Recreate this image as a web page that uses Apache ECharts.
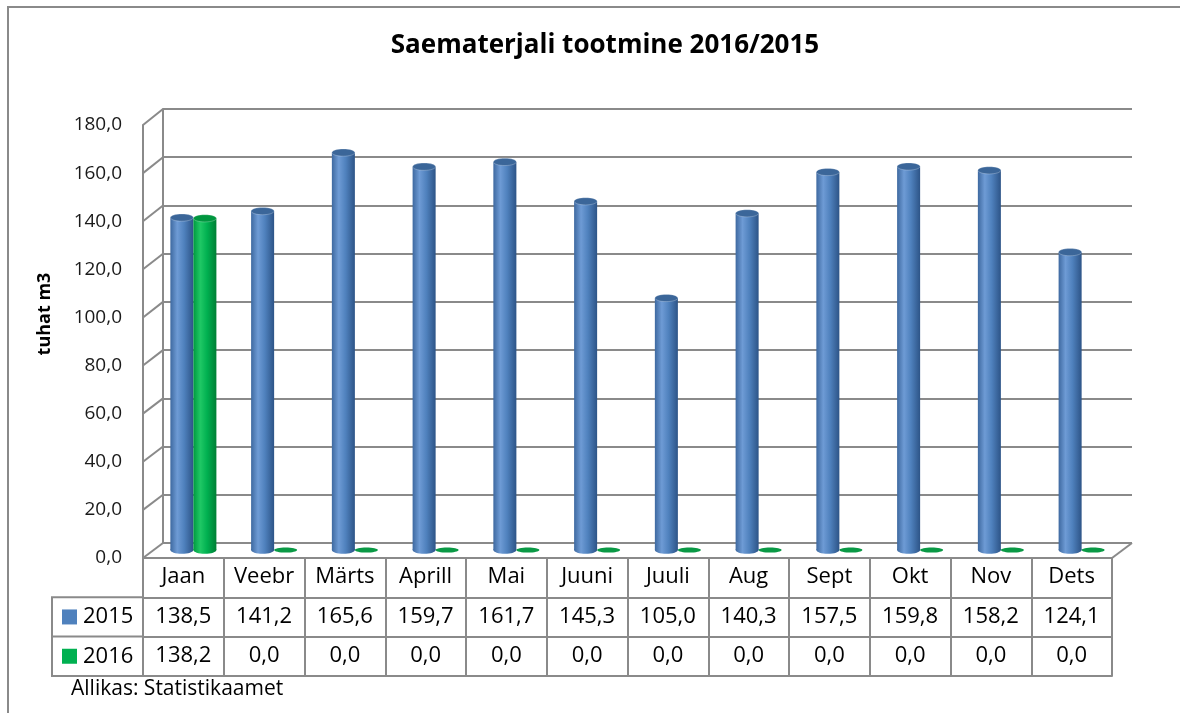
<!DOCTYPE html>
<html>
<head>
<meta charset="utf-8">
<title>Saematerjali tootmine 2016/2015</title>
<script src="https://cdn.jsdelivr.net/npm/echarts@6/dist/echarts.min.js"></script>
<style>
  html, body { margin: 0; padding: 0; background: #fff; }
  #chart { width: 1180px; height: 713px; }
</style>
</head>
<body>
<div id="chart"></div>
<script>
// andmed
var months = ['Jaan', 'Veebr', 'Märts', 'Aprill', 'Mai', 'Juuni', 'Juuli', 'Aug', 'Sept', 'Okt', 'Nov', 'Dets'];
var seriesNames = ['2015', '2016'];
var values2015 = [138.5, 141.2, 165.6, 159.7, 161.7, 145.3, 105.0, 140.3, 157.5, 159.8, 158.2, 124.1];
var values2016 = [138.2, 0, 0, 0, 0, 0, 0, 0, 0, 0, 0, 0];
var yTicks = [0, 20, 40, 60, 80, 100, 120, 140, 160, 180];

var W = 1180;
var FONT = '"Open Sans", "Noto Sans", sans-serif';
var LINE = '#8a8a8a';

// 3D "kasti" paigutus
var front = { left: 143, right: 1112, top: 125, bottom: 558 };
var back = { left: 163, right: 1132, top: 109, bottom: 543 };
var bars = { left: 153, right: 1122, top: 118, bottom: 550 };
var rowH = 39.3;

function fmt(v) { return v.toFixed(1).replace('.', ','); }

var blueBody = { type: 'linear', x: 0, y: 0, x2: 1, y2: 0, colorStops: [
  { offset: 0, color: '#3e69a0' }, { offset: 0.3, color: '#6e9bd5' },
  { offset: 0.6, color: '#4f81bd' }, { offset: 1, color: '#2d5487' }] };
var greenBody = { type: 'linear', x: 0, y: 0, x2: 1, y2: 0, colorStops: [
  { offset: 0, color: '#009a40' }, { offset: 0.3, color: '#1fc865' },
  { offset: 0.6, color: '#00b050' }, { offset: 1, color: '#007f35' }] };

// silinder, side = -1 vasakul, +1 paremal
function cylinder(side, body, topColor, flatColor) {
  return function (params, api) {
    var idx = api.value(0), val = api.value(1);
    var base = api.coord([idx, 0]);
    var top = api.coord([idx, val]);
    var w = api.size([1, 0])[0] * 0.285;
    var cx = base[0] + side * w / 2;
    var rx = w / 2;
    if (val <= 0) {
      return { type: 'ellipse', shape: { cx: cx, cy: base[1], rx: rx, ry: 2.6 }, style: { fill: flatColor } };
    }
    return { type: 'group', children: [
      { type: 'ellipse', shape: { cx: cx, cy: base[1], rx: rx, ry: 3.8 }, style: { fill: body } },
      { type: 'rect', shape: { x: cx - rx, y: top[1], width: w, height: base[1] - top[1] }, style: { fill: body } },
      { type: 'ellipse', shape: { cx: cx, cy: top[1], rx: rx, ry: 3.6 }, style: { fill: topColor, stroke: 'rgba(255,255,255,0.25)', lineWidth: 1 } }
    ] };
  };
}

var chart = echarts.init(document.getElementById('chart'));

var hidden = { show: false };
var option = {
  animation: false,
  title: [
    { text: 'Saematerjali tootmine 2016/2015', left: 600, textAlign: 'center', top: 28,
      textStyle: { fontFamily: FONT, fontSize: 26, fontWeight: 'bold', color: '#000' } },
    { text: 'Allikas: Statistikaamet', left: 66, top: 674,
      textStyle: { fontFamily: FONT, fontSize: 21, fontWeight: 'normal', color: '#000' } }
  ],
  grid: [
    { left: back.left, right: W - back.right, top: back.top, height: back.bottom - back.top },
    { left: front.left, right: W - front.right, top: front.top, height: front.bottom - front.top },
    { left: bars.left, right: W - bars.right, top: bars.top, height: bars.bottom - bars.top },
    { left: front.left, right: W - front.right, top: 500, height: front.bottom - 500 }
  ],
  xAxis: [
    { type: 'category', gridIndex: 0, data: months, show: false },
    { type: 'category', gridIndex: 1, data: months, show: false },
    { type: 'category', gridIndex: 2, data: months, show: false },
    { type: 'category', gridIndex: 3, data: months, position: 'bottom',
      axisLine: { lineStyle: { color: LINE, width: 2 } },
      axisTick: { show: true, interval: 0, length: rowH * 3, lineStyle: { color: LINE, width: 2 } },
      axisLabel: { interval: 0, margin: 8, fontFamily: FONT, fontSize: 22, color: '#000' } },
    { type: 'category', gridIndex: 3, data: values2015.map(fmt), position: 'bottom', offset: rowH,
      axisLine: { lineStyle: { color: LINE, width: 2 } }, axisTick: hidden,
      axisLabel: { interval: 0, margin: 8, fontFamily: FONT, fontSize: 22, color: '#000' } },
    { type: 'category', gridIndex: 3, data: values2016.map(fmt), position: 'bottom', offset: rowH * 2,
      axisLine: { lineStyle: { color: LINE, width: 2 } }, axisTick: hidden,
      axisLabel: { interval: 0, margin: 8, fontFamily: FONT, fontSize: 22, color: '#000' } },
    { type: 'category', gridIndex: 3, data: months, position: 'bottom', offset: rowH * 3,
      axisLine: { lineStyle: { color: LINE, width: 2 } }, axisTick: hidden, axisLabel: hidden }
  ],
  yAxis: [
    { type: 'value', gridIndex: 0, min: 0, max: 180, interval: 20,
      axisLine: { show: true, lineStyle: { color: LINE, width: 2 } }, axisTick: hidden, axisLabel: hidden,
      splitLine: { show: true, lineStyle: { color: LINE, width: 2 } } },
    { type: 'value', gridIndex: 1, min: 0, max: 180, interval: 20,
      axisLine: { show: true, lineStyle: { color: LINE, width: 2 } }, axisTick: hidden,
      axisLabel: { margin: 21, fontFamily: FONT, fontSize: 19, color: '#1a1a1a', formatter: fmt },
      splitLine: hidden },
    { type: 'value', gridIndex: 2, min: 0, max: 180, show: false },
    { type: 'value', gridIndex: 3, show: false }
  ],
  series: [
    { name: seriesNames[0], type: 'custom', xAxisIndex: 2, yAxisIndex: 2,
      data: values2015.map(function (v, i) { return [i, v]; }),
      renderItem: cylinder(-1, blueBody, '#3b6699', '#4f81bd') },
    { name: seriesNames[1], type: 'custom', xAxisIndex: 2, yAxisIndex: 2,
      data: values2016.map(function (v, i) { return [i, v]; }),
      renderItem: cylinder(1, greenBody, '#00963f', '#0a9945') }
  ]
};
chart.setOption(option);

// kaldjooned esitelje ja tagaseina vahel, põranda parem serv, legendilahter, raam
var g = [];
yTicks.forEach(function (v) {
  var yf = chart.convertToPixel({ yAxisIndex: 1 }, v);
  var yb = chart.convertToPixel({ yAxisIndex: 0 }, v);
  g.push({ type: 'line', shape: { x1: front.left, y1: yf, x2: back.left, y2: yb }, style: { stroke: LINE, lineWidth: 2 } });
});
g.push({ type: 'line', shape: { x1: back.right, y1: back.bottom, x2: front.right, y2: front.bottom }, style: { stroke: LINE, lineWidth: 2 } });

// telje nimi
g.push({ type: 'text', x: 45, y: 314, rotation: Math.PI / 2,
  style: { text: 'tuhat m3', fontFamily: FONT, fontSize: 18, fontWeight: 'bold', fill: '#000', align: 'center', verticalAlign: 'middle' } });

var legLeft = 52, legTop = front.bottom + rowH;
var legColors = ['#4f81bd', '#00b050'];
g.push({ type: 'polyline', shape: { points: [[front.left, legTop], [legLeft, legTop], [legLeft, legTop + rowH * 2], [front.left, legTop + rowH * 2]] }, style: { stroke: LINE, lineWidth: 2, fill: null } });
g.push({ type: 'line', shape: { x1: legLeft, y1: legTop + rowH, x2: front.left, y2: legTop + rowH }, style: { stroke: LINE, lineWidth: 2 } });
seriesNames.forEach(function (name, i) {
  var cy = legTop + rowH * i + rowH / 2;
  g.push({ type: 'rect', shape: { x: 62, y: cy - 7.5, width: 15, height: 15 }, style: { fill: legColors[i] } });
  g.push({ type: 'text', x: 83, y: cy, style: { text: name, fontFamily: FONT, fontSize: 22, fill: '#000', verticalAlign: 'middle' } });
});

g.push({ type: 'polyline', shape: { points: [[8, 713], [8, 7], [1180, 7]] }, style: { stroke: LINE, lineWidth: 2, fill: null } });

chart.setOption({ graphic: g });
</script>
</body>
</html>
